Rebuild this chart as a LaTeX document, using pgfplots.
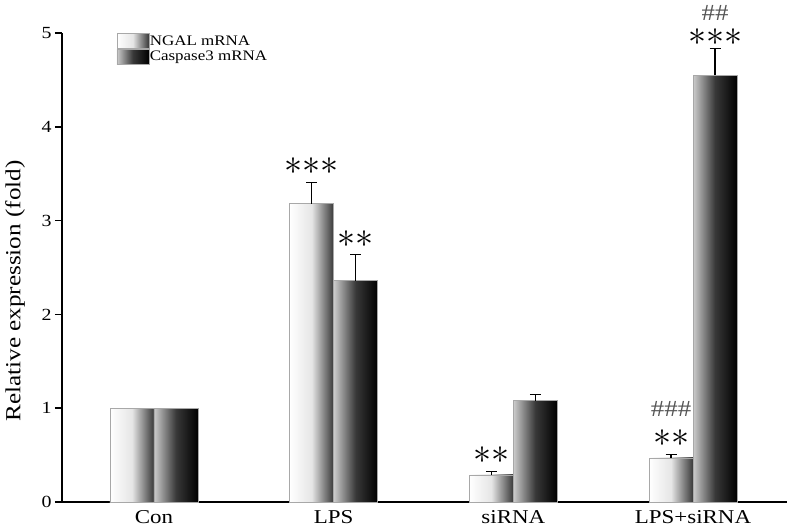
\documentclass[border=0pt]{standalone}
\usepackage{fontspec}
\setmainfont[FakeStretch=1.17]{Liberation Serif}
\usepackage{graphicx}
\usepackage{pgfplots}
\pgfplotsset{compat=1.18}

\definecolor{hashgray}{HTML}{555555}
\definecolor{edgegray}{HTML}{A8A8A8}

\newcommand{\stars}[1]{\scalebox{3.6}{\normalsize$#1$}}

\pgfplotsset{
  ngal/.style={ybar, bar width=44pt, bar shift=-22pt, draw=edgegray, line width=0.6pt,
    left color=white, right color=black!78, middle color=black!10},
  casp/.style={ybar, bar width=44pt, bar shift=22pt, draw=edgegray, line width=0.6pt,
    left color=black!20, right color=black, middle color=black!78},
  err/.style={error bars/.cd, y dir=plus, y explicit,
    error bar style={black, line width=1.1pt, xshift=#1},
    error mark options={rotate=90, mark size=5.5pt, black, line width=1.1pt}},
}

\begin{document}
\begin{tikzpicture}
\useasboundingbox (-62pt,-26pt) rectangle (725pt,502pt);
\begin{axis}[
  at={(0,0)}, anchor=south west,
  scale only axis,
  width=725pt, height=469pt,
  xmin=-0.512, xmax=3.523,
  ymin=0, ymax=5,
  clip=false,
  axis x line*=bottom, axis y line*=left,
  x axis line style={line width=2.4pt},
  y axis line style={line width=1.8pt},
  xtick={0,1,2,3},
  xticklabels={Con, LPS, siRNA, LPS+siRNA},
  major x tick style={draw=none},
  x tick label style={font=\fontsize{19.6}{20}\selectfont, yshift=2pt},
  ytick={0,1,2,3,4,5},
  tick align=outside,
  major tick length=7pt,
  major y tick style={line width=1.6pt, black},
  y tick label style={font=\fontsize{17}{18}\selectfont},
  /pgf/number format/assume math mode=true,
  ylabel={Relative expression (fold)},
  every axis y label/.style={at={(rel axis cs:0,0.45)}, xshift=-47pt, rotate=90, anchor=center, font=\fontsize{21.5}{22}\selectfont},
  legend style={draw=none, fill=none, at={(rel axis cs:0.075,1.0)}, anchor=north west,
    font=\fontsize{14.5}{14.5}\selectfont, row sep=0pt, inner sep=0pt,
    nodes={inner sep=0.6pt}},
  legend cell align=left,
  legend image code/.code={\draw[#1] (0pt,-7.5pt) rectangle (32pt,7.5pt);},
]
% NGAL mRNA, one plot per bar so each bar has its own shading
\addplot[ngal] coordinates {(0,1.00)};
\addlegendentry{NGAL mRNA}
% Caspase3 mRNA
\addplot[casp] coordinates {(0,1.00)};
\addlegendentry{Caspase3 mRNA}

\addplot[ngal, forget plot, err=-22pt] coordinates {(1,3.18) +- (0,0.23)};
\addplot[ngal, forget plot, err=-22pt] coordinates {(2,0.29) +- (0,0.035)};
\addplot[ngal, forget plot, err=-22pt] coordinates {(3,0.47) +- (0,0.04)};
\addplot[casp, forget plot, err=22pt] coordinates {(1,2.36) +- (0,0.28)};
\addplot[casp, forget plot, err=22pt] coordinates {(2,1.08) +- (0,0.065)};
\addplot[casp, forget plot, err=22pt] coordinates {(3,4.55) +- (0,0.28)};

% significance marks
\tikzset{sig/.style={inner sep=0pt}}
\node[sig, xshift=-22pt] at (axis cs:1,3.58) {\stars{{\ast}{\ast}{\ast}}};
\node[sig, xshift=22pt]  at (axis cs:1,2.80) {\stars{{\ast}{\ast}}};
\node[sig, xshift=-22pt] at (axis cs:2,0.50) {\stars{{\ast}{\ast}}};
\node[sig, xshift=-22pt] at (axis cs:3,0.68) {\stars{{\ast}{\ast}}};
\node[sig, xshift=-22pt, text=hashgray, font=\fontsize{23}{23}\selectfont] at (axis cs:3,0.99) {\#\#\#};
\node[sig, xshift=22pt]  at (axis cs:3,4.96) {\stars{{\ast}{\ast}{\ast}}};
\node[sig, xshift=22pt, text=hashgray, font=\fontsize{23}{23}\selectfont] at (axis cs:3,5.21) {\#\#};
\end{axis}
\end{tikzpicture}
\end{document}
